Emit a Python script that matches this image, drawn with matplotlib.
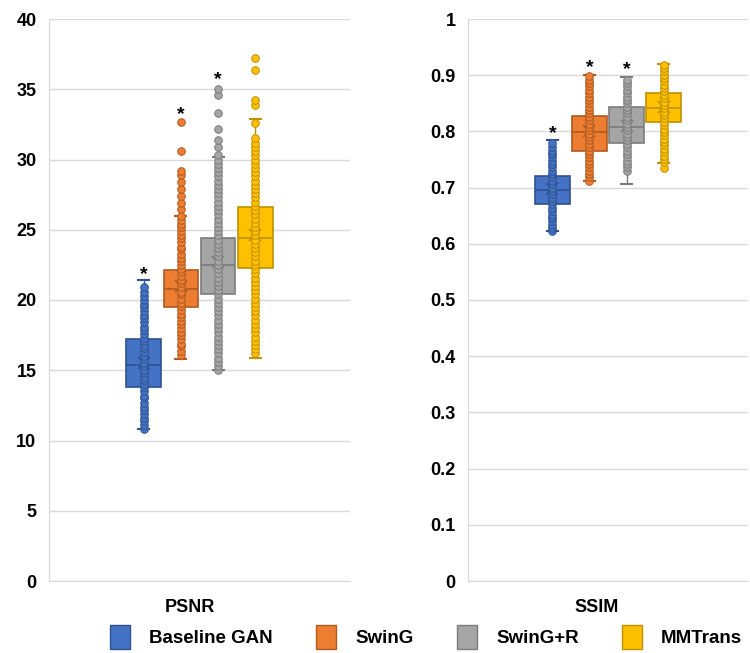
import numpy as np
import matplotlib
matplotlib.use("Agg")
import matplotlib.pyplot as plt
from matplotlib.patches import Patch

plt.rcParams['font.family'] = ['Liberation Sans', 'DejaVu Sans']
plt.rcParams['font.weight'] = 'bold'

methods = ["Baseline GAN", "SwinG", "SwinG+R", "MMTrans"]
colors = ["#4472C4", "#ED7D31", "#A5A5A5", "#FFC000"]
edges = ["#2F528F", "#AE5A21", "#7B7B7B", "#BF9000"]

# PSNR box stats
psnr_whislo = [10.8, 15.8, 15.0, 15.9]
psnr_q1 = [13.8, 19.5, 20.4, 22.3]
psnr_med = [15.4, 20.8, 22.5, 24.4]
psnr_q3 = [17.2, 22.1, 24.4, 26.6]
psnr_whishi = [21.4, 26.0, 30.2, 32.9]
psnr_mean = [15.5, 21.0, 22.7, 24.6]
psnr_star = [21.8, 33.2, 35.7, None]

psnr_blue = [10.8, 11.1, 11.4, 11.6, 11.9, 12.2, 12.4, 12.7, 13.0, 13.2, 13.5, 13.8,
             14.0, 14.3, 14.5, 14.8, 15.0, 15.3, 15.5, 15.8, 16.0, 16.3, 16.6, 16.8,
             17.1, 17.3, 17.6, 17.9, 18.1, 18.4, 18.7, 18.9, 19.2, 19.5, 19.7, 20.0,
             20.3, 20.6, 20.9]
psnr_orange = [16.1, 16.4, 16.7, 16.9, 17.2, 17.5, 17.7, 18.0, 18.3, 18.5, 18.8, 19.0,
               19.3, 19.6, 19.8, 20.1, 20.4, 20.6, 20.9, 21.2, 21.4, 21.7, 22.0, 22.2,
               22.5, 22.8, 23.0, 23.3, 23.6, 23.8, 24.1, 24.4, 24.6, 24.9, 25.2, 25.4,
               25.7, 26.0, 26.5, 26.9, 27.4, 27.9, 28.4, 28.9, 29.2, 30.6, 32.7]
psnr_gray = [15.0, 15.3, 15.6, 15.9, 16.2, 16.5, 16.8, 17.1, 17.4, 17.7, 18.0, 18.3,
             18.6, 18.9, 19.2, 19.5, 19.8, 20.1, 20.4, 20.7, 21.0, 21.3, 21.6, 21.9,
             22.2, 22.5, 22.8, 23.1, 23.4, 23.7, 24.0, 24.3, 24.6, 24.9, 25.2, 25.5,
             25.8, 26.1, 26.4, 26.7, 27.0, 27.3, 27.6, 27.9, 28.2, 28.5, 28.8, 29.1,
             29.4, 29.7, 30.0, 30.3, 30.9, 31.4, 32.2, 33.3, 34.6, 35.0]
psnr_yellow = [16.2, 16.5, 16.8, 17.1, 17.4, 17.7, 18.0, 18.3, 18.6, 18.9, 19.2, 19.5,
               19.8, 20.1, 20.4, 20.7, 21.0, 21.3, 21.6, 21.9, 22.2, 22.5, 22.8, 23.1,
               23.4, 23.7, 24.0, 24.3, 24.6, 24.9, 25.2, 25.5, 25.8, 26.1, 26.4, 26.7,
               27.0, 27.3, 27.6, 27.9, 28.2, 28.5, 28.8, 29.1, 29.4, 29.7, 30.0, 30.3,
               30.6, 30.9, 31.2, 31.5, 32.6, 33.9, 34.2, 36.4, 37.2]

# SSIM box stats
ssim_whislo = [0.622, 0.712, 0.707, 0.744]
ssim_q1 = [0.670, 0.766, 0.780, 0.817]
ssim_med = [0.695, 0.799, 0.808, 0.842]
ssim_q3 = [0.721, 0.828, 0.844, 0.869]
ssim_whishi = [0.785, 0.900, 0.897, 0.920]
ssim_mean = [0.697, 0.801, 0.810, 0.843]
ssim_star = [0.797, 0.913, 0.910, None]

ssim_blue = [0.622, 0.628, 0.634, 0.640, 0.646, 0.652, 0.658, 0.664, 0.670, 0.676,
             0.682, 0.688, 0.694, 0.700, 0.706, 0.712, 0.718, 0.724, 0.730, 0.736,
             0.742, 0.748, 0.754, 0.760, 0.766, 0.772, 0.779]
ssim_orange = [0.712, 0.718, 0.724, 0.730, 0.736, 0.742, 0.748, 0.754, 0.760, 0.766,
               0.772, 0.778, 0.784, 0.790, 0.796, 0.802, 0.808, 0.814, 0.820, 0.826,
               0.832, 0.838, 0.844, 0.850, 0.856, 0.862, 0.868, 0.874, 0.880, 0.886,
               0.892, 0.898]
ssim_gray = [0.730, 0.736, 0.742, 0.748, 0.754, 0.760, 0.766, 0.772, 0.778, 0.784,
             0.790, 0.796, 0.802, 0.808, 0.814, 0.820, 0.826, 0.832, 0.838, 0.844,
             0.850, 0.856, 0.862, 0.868, 0.874, 0.880, 0.886, 0.892]
ssim_yellow = [0.734, 0.745, 0.751, 0.757, 0.763, 0.769, 0.775, 0.781, 0.787, 0.793,
               0.799, 0.805, 0.811, 0.817, 0.823, 0.829, 0.835, 0.841, 0.847, 0.853,
               0.859, 0.865, 0.871, 0.877, 0.883, 0.889, 0.895, 0.901, 0.907, 0.913,
               0.918]

positions = [1, 2, 3, 4]


def draw_panel(ax, whislo, q1, med, q3, whishi, mean, stars, points, ylim, yticks, ticklabels, half):
    stats = []
    for i in range(4):
        stats.append(dict(whislo=whislo[i], q1=q1[i], med=med[i], q3=q3[i],
                          whishi=whishi[i], mean=mean[i], fliers=[]))
    for i in range(4):
        ax.bxp([stats[i]], positions=[positions[i]], widths=0.93, patch_artist=True,
               showmeans=True, capwidths=0.3,
               boxprops=dict(facecolor=colors[i], edgecolor=edges[i], linewidth=1.2),
               medianprops=dict(color=edges[i], linewidth=1.2),
               whiskerprops=dict(color=edges[i], linewidth=1.0),
               capprops=dict(color=edges[i], linewidth=1.5),
               meanprops=dict(marker='x', markeredgecolor=edges[i], markersize=9,
                              markeredgewidth=1.2),
               zorder=2)
        ax.scatter(np.full(len(points[i]), positions[i]), points[i], s=30,
                   facecolor=colors[i], edgecolor=edges[i], linewidth=0.7,
                   zorder=3)
        if stars[i] is not None:
            ax.text(positions[i], stars[i], '*', ha='center', va='center',
                    fontsize=14, fontweight='bold', color='black', zorder=4)
    ax.set_xlim(2.5 - half, 2.5 + half)
    ax.set_ylim(*ylim)
    ax.set_yticks(yticks)
    ax.set_yticklabels(ticklabels)
    ax.set_xticks([])
    ax.grid(axis='y', color='#D9D9D9', linewidth=1.0, zorder=0)
    ax.set_axisbelow(True)
    ax.tick_params(axis='y', length=0, pad=9, labelsize=13)
    for sp in ax.spines.values():
        sp.set_color('#D9D9D9')
    ax.spines['top'].set_visible(False)
    ax.spines['right'].set_visible(False)


fig = plt.figure(figsize=(7.5, 6.53), dpi=100)
ax1 = fig.add_axes([49 / 750, 72 / 653, 301 / 750, 562 / 653])
ax2 = fig.add_axes([468 / 750, 72 / 653, 280 / 750, 562 / 653])

draw_panel(ax1, psnr_whislo, psnr_q1, psnr_med, psnr_q3, psnr_whishi, psnr_mean,
           psnr_star, [psnr_blue, psnr_orange, psnr_gray, psnr_yellow],
           (0, 40), np.arange(0, 41, 5), [str(v) for v in range(0, 41, 5)], 4.05)
ssim_ticks = np.round(np.arange(0, 1.01, 0.1), 1)
draw_panel(ax2, ssim_whislo, ssim_q1, ssim_med, ssim_q3, ssim_whishi, ssim_mean,
           ssim_star, [ssim_blue, ssim_orange, ssim_gray, ssim_yellow],
           (0, 1), ssim_ticks, ['0'] + [f"{v:.1f}" for v in ssim_ticks[1:-1]] + ['1'], 3.78)

fig.text(190 / 750, 1 - 607 / 653, "PSNR", ha='center', va='center', fontsize=13, fontweight='bold')
fig.text(597 / 750, 1 - 607 / 653, "SSIM", ha='center', va='center', fontsize=13, fontweight='bold')

handles = [Patch(facecolor=colors[i], edgecolor=edges[i], linewidth=1.0) for i in range(4)]
fig.legend(handles, methods, loc='center', bbox_to_anchor=(426 / 750, 1 - 637 / 653),
           ncol=4, frameon=False, fontsize=13.5, handlelength=1.1, handleheight=1.6,
           columnspacing=2.3, handletextpad=1.0)

fig.savefig("out.png", dpi=100)
